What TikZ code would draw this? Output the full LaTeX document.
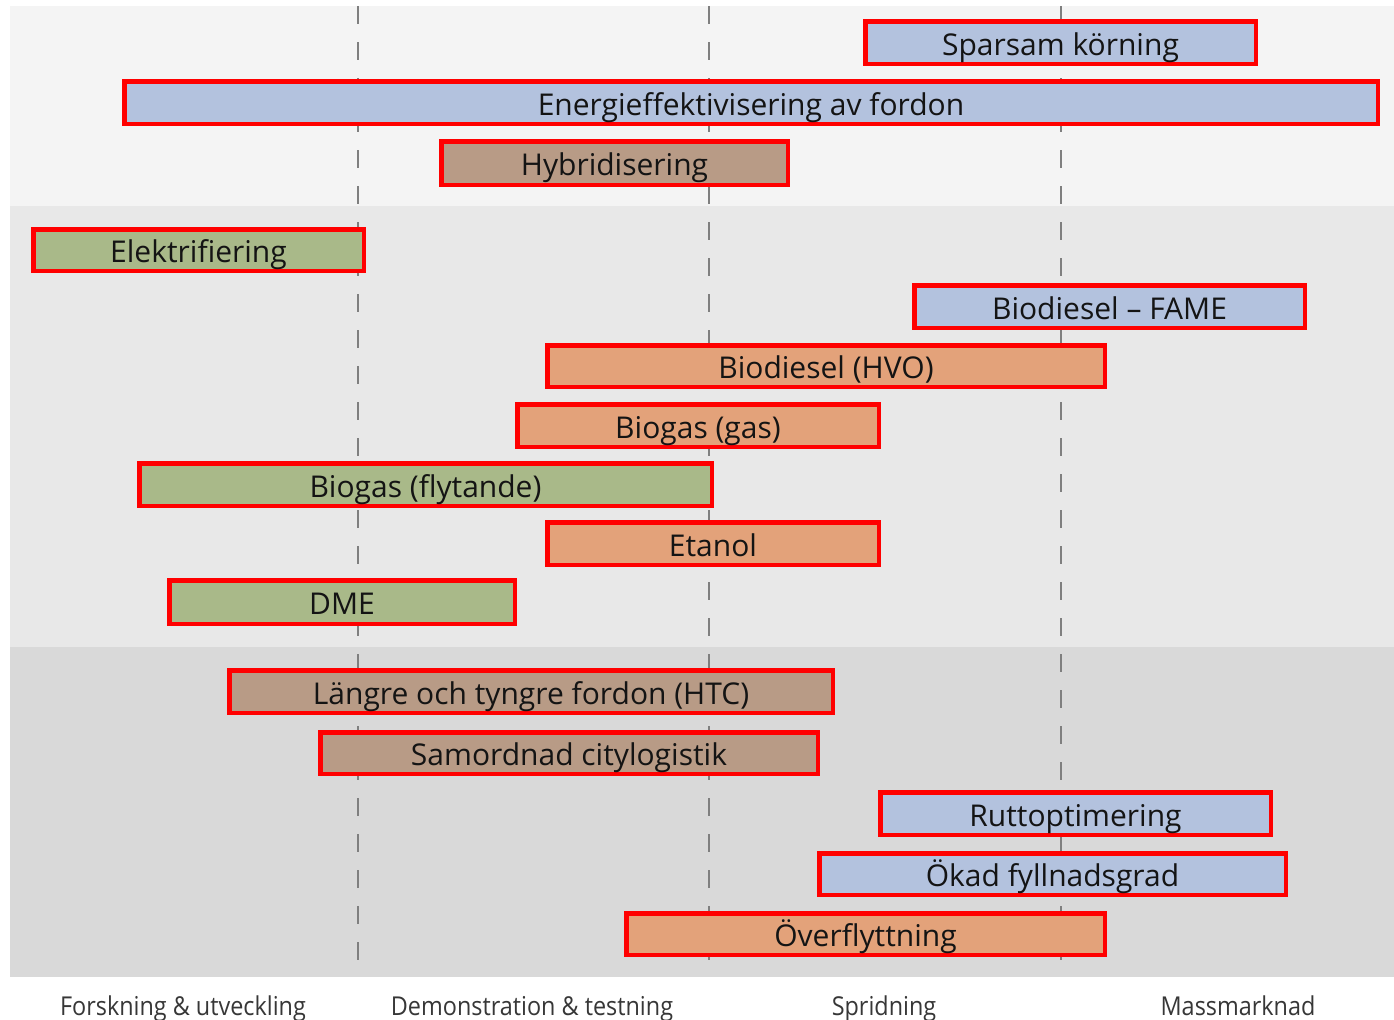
\documentclass[tikz,border=0pt]{standalone}
\usepackage{fontspec}
\newfontfamily\barfont{Open Sans}
\newfontfamily\axfont[FakeStretch=0.9]{Open Sans}
\definecolor{bgA}{HTML}{F4F4F4}
\definecolor{bgB}{HTML}{E8E8E8}
\definecolor{bgC}{HTML}{D9D9D9}
\definecolor{cBlue}{HTML}{B3C2DE}
\definecolor{cBrown}{HTML}{B89B86}
\definecolor{cGreen}{HTML}{A9B989}
\definecolor{cOrange}{HTML}{E3A27A}
\definecolor{cRed}{HTML}{FF0000}
\definecolor{cDash}{HTML}{7F7F7F}
\definecolor{cText}{HTML}{141414}
\tikzset{
  barbox/.style={draw=cRed, line width=4.5bp, inner sep=0pt, text=cText,
    text height=25bp, text depth=0bp,
    font=\barfont\fontsize{30bp}{34bp}\selectfont},
  phase/.style={text=cText!85, font=\axfont\fontsize{26bp}{30bp}\selectfont, anchor=base},
  stageline/.style={draw=cDash, line width=2bp, dash pattern=on 18bp off 18bp}
}
\newcommand\gbar[7]{%
  \node[barbox, fill=#6, minimum width={(#4-#2-4.5)*1bp}, minimum height={(#5-#3-4.5)*1bp}]
    (#1) at ({(#2+#4)/2},{(#3+#5)/2}) {#7};}
\begin{document}
\begin{tikzpicture}[x=1bp,y=-1bp]
\useasboundingbox (0,0) rectangle (1394,1019);
\fill[white] (0,0) rectangle (1394,1019);
\fill[bgA] (10,6) rectangle (1394,206);
\fill[bgB] (10,206) rectangle (1394,647);
\fill[bgC] (10,647) rectangle (1394,977);
\coordinate (l1t) at (358,6); \coordinate (l1b) at (358,977);
\coordinate (l2t) at (709,6); \coordinate (l2b) at (709,977);
\coordinate (l3t) at (1061,6); \coordinate (l3b) at (1061,977);
\path[stageline] (l1t) -- (l1b);
\path[stageline] (l2t) -- (l2b);
\path[stageline] (l3t) -- (l3b);
\gbar{b1}{863}{19}{1258}{66}{cBlue}{Sparsam körning}
\gbar{b2}{122}{79}{1380}{126}{cBlue}{Energieffektivisering av fordon}
\gbar{b3}{439}{139}{790}{187}{cBrown}{Hybridisering}
\gbar{b4}{31}{227}{366}{273}{cGreen}{Elektrifiering}
\gbar{b5}{912}{283}{1307}{330}{cBlue}{Biodiesel – FAME}
\gbar{b6}{545}{343}{1107}{389}{cOrange}{Biodiesel (HVO)}
\gbar{b7}{515}{402}{881}{449}{cOrange}{Biogas (gas)}
\gbar{b8}{137}{461}{714}{508}{cGreen}{Biogas (flytande)}
\gbar{b9}{545}{520}{881}{567}{cOrange}{Etanol}
\gbar{b10}{167}{578}{517}{626}{cGreen}{DME}
\gbar{b11}{227}{668}{835}{715}{cBrown}{Längre och tyngre fordon (HTC)}
\gbar{b12}{318}{730}{820}{776}{cBrown}{Samordnad citylogistik}
\gbar{b13}{878}{790}{1273}{837}{cBlue}{Ruttoptimering}
\gbar{b14}{817}{851}{1288}{897}{cBlue}{Ökad fyllnadsgrad}
\gbar{b15}{624}{911}{1107}{957}{cOrange}{Överflyttning}
\node[phase] (p1) at (183,1015) {Forskning \& utveckling};
\node[phase] (p2) at (532,1015) {Demonstration \& testning};
\node[phase] (p3) at (884,1015) {Spridning};
\node[phase] (p4) at (1238,1015) {Massmarknad};
\end{tikzpicture}
\end{document}
